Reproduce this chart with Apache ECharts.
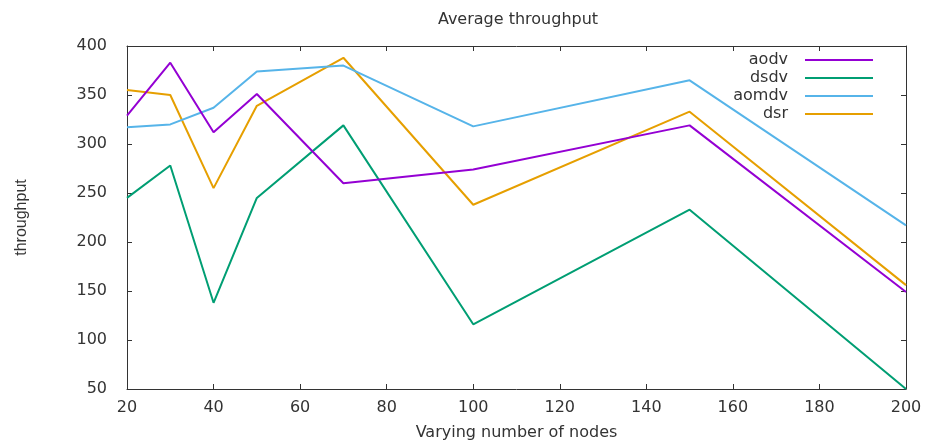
<!DOCTYPE html>
<html>
<head>
  <meta charset="utf-8">
</head>
<body style="margin: 0; background: #fff">
  <div id="container" style="width: 926px; height: 446px"></div>

  <script type="text/javascript" src="https://cdn.jsdelivr.net/npm/echarts@6/dist/echarts.min.js"></script>

  <script type="text/javascript">
    var nodes = [20, 30, 40, 50, 70, 100, 150, 200];
    var aodv = [329, 383, 312, 351, 260, 274, 319, 149];
    var dsdv = [245, 278, 138, 245, 319, 116, 233, 50];
    var aomdv = [317, 320, 337, 374, 380, 318, 365, 217];
    var dsr = [355, 350, 255, 339, 388, 238, 333, 156];

    var names = ['aodv', 'dsdv', 'aomdv', 'dsr'];
    var colors = ['#9400d3', '#009e73', '#56b4e9', '#e69f00'];
    var values = [aodv, dsdv, aomdv, dsr];

    var font = 'DejaVu Sans';
    var ink = '#333';

    var chart = echarts.init(document.getElementById('container'), null, { renderer: 'canvas' });

    function pairs(ys) {
      return nodes.map(function (x, i) { return [x, ys[i]]; });
    }

    var axisLine = { show: true, lineStyle: { color: ink, width: 1 } };
    var axisTick = { show: true, inside: true, length: 5, lineStyle: { color: ink } };

    var option = {
      animation: false,
      backgroundColor: '#fff',
      color: colors,
      title: {
        text: 'Average throughput',
        left: 513,
        top: 7,
        textAlign: 'center',
        textStyle: { fontFamily: font, fontSize: 16, fontWeight: 'normal', color: ink }
      },
      legend: {
        orient: 'vertical',
        right: 48,
        top: 46,
        align: 'right',
        icon: 'rect',
        itemWidth: 68,
        itemHeight: 2,
        itemGap: 0,
        data: names,
        textStyle: { fontFamily: font, fontSize: 16, color: ink, lineHeight: 18, padding: [0, 12, 0, 0] }
      },
      grid: { left: 127, right: 20, top: 46, bottom: 55, containLabel: false },
      xAxis: [
        {
          type: 'value',
          min: 20, max: 200, interval: 20,
          name: 'Varying number of nodes',
          nameLocation: 'middle',
          nameGap: 36,
          nameTextStyle: { fontFamily: font, fontSize: 16, color: ink },
          axisLine: axisLine,
          axisTick: axisTick,
          splitLine: { show: false },
          axisLabel: { fontFamily: font, fontSize: 16, color: ink, margin: 11 }
        },
        {
          type: 'value', position: 'top',
          min: 20, max: 200, interval: 20,
          axisLine: axisLine, axisTick: axisTick,
          splitLine: { show: false }, axisLabel: { show: false }
        }
      ],
      yAxis: [
        {
          type: 'value',
          min: 50, max: 400, interval: 50,
          name: 'throughput',
          nameLocation: 'middle',
          nameGap: 97,
          nameTextStyle: { fontFamily: 'Liberation Sans Narrow, Liberation Sans', fontSize: 16, color: ink },
          axisLine: axisLine,
          axisTick: axisTick,
          splitLine: { show: false },
          axisLabel: { fontFamily: font, fontSize: 16, color: ink, margin: 20 }
        },
        {
          type: 'value', position: 'right',
          min: 50, max: 400, interval: 50,
          axisLine: axisLine, axisTick: axisTick,
          splitLine: { show: false }, axisLabel: { show: false }
        }
      ],
      series: names.map(function (n, i) {
        return {
          name: n,
          type: 'line',
          data: pairs(values[i]),
          symbol: 'none',
          lineStyle: { color: colors[i], width: 2 },
          itemStyle: { color: colors[i] },
          z: 10 - i
        };
      })
    };

    chart.setOption(option);
    window.addEventListener('resize', chart.resize);
  </script>
</body>
</html>
